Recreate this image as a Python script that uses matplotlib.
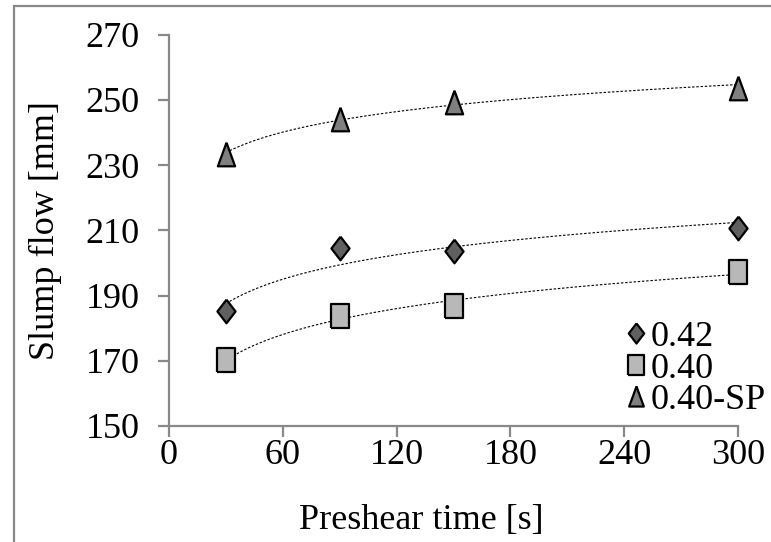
import matplotlib.pyplot as plt
import numpy as np
from matplotlib.patches import Rectangle

plt.rcParams['font.family'] = ['Liberation Serif', 'DejaVu Serif']

# preshear time [s]
preshear = [30, 90, 150, 300]

# slump flow [mm]
flow_042 = [185.2, 204.5, 203.8, 210.8]
flow_040 = [170.2, 183.6, 186.8, 197.3]
flow_040sp = [233.3, 244.3, 249.4, 253.8]

labels = ["0.42", "0.40", "0.40-SP"]

# tall markers like the excel ones
diamond = [(0, 1), (0.77, 0), (0, -1), (-0.77, 0), (0, 1)]
square = [(-0.8, -1), (0.8, -1), (0.8, 1), (-0.8, 1), (-0.8, -1)]
triangle = [(0, 1), (0.73, -1), (-0.73, -1), (0, 1)]

series = [
    (flow_042, diamond, "#606060"),
    (flow_040, square, "#b8b8b8"),
    (flow_040sp, triangle, "#808080"),
]

fs = 26

fig = plt.figure(figsize=(7.71, 5.42), dpi=100)
ax = fig.add_axes([169/771, 1-426/542, (738-169)/771, (426-34.7)/542])

x = np.array(preshear, dtype=float)
xs = np.linspace(30, 300, 200)
for (y, m, c), lab in zip(series, labels):
    # logarithmic trendline
    k, b = np.polyfit(np.log(x), y, 1)
    ax.plot(xs, k*np.log(xs) + b, color="black", lw=0.8, ls=(0, (2.2, 1.6)), zorder=2)
    ax.plot(x, y, ls="none", marker=m, markersize=17, markerfacecolor=c,
            markeredgecolor="black", markeredgewidth=1.6, label=lab, zorder=3,
            clip_on=False)

ax.set_xlim(0, 300)
ax.set_ylim(150, 270)
ax.set_xticks(np.arange(0, 301, 60))
ax.set_yticks(np.arange(150, 271, 20))

gray = "#898989"
for s in ["top", "right"]:
    ax.spines[s].set_visible(False)
for s in ["left", "bottom"]:
    ax.spines[s].set_color(gray)
    ax.spines[s].set_linewidth(1.6)
ax.tick_params(axis="both", direction="out", length=8, width=1.6, color=gray,
               labelsize=fs)
ax.tick_params(axis="y", pad=13)
ax.tick_params(axis="x", pad=1)

ax.set_ylabel("Slump flow [mm]", fontsize=fs)
ax.yaxis.set_label_coords(-(169-45)/(738-169), 0.5)
ax.yaxis.label.set_va("center")
ax.set_xlabel("Preshear time [s]", fontsize=fs)
ax.xaxis.set_label_coords((421-169)/(738-169), -(520-426)/(426-34.7))
ax.xaxis.label.set_va("center")

leg = ax.legend(loc="lower right", bbox_to_anchor=(766/771, 1-417/542),
                bbox_transform=fig.transFigure, frameon=False, fontsize=fs,
                handlelength=0.6, handletextpad=0.1, borderpad=0,
                labelspacing=-0.05, borderaxespad=0, markerscale=0.85)

# outer frame of the chart area
fig.patches.append(Rectangle((14/771, -0.1), 1.0, 1 - 5.7/542 + 0.1,
                             transform=fig.transFigure, fill=False,
                             edgecolor=gray, lw=1.6, clip_on=False))

fig.savefig("out.png", dpi=100)
